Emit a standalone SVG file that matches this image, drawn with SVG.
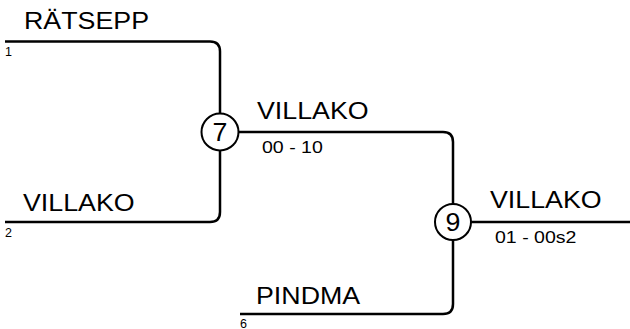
<svg xmlns="http://www.w3.org/2000/svg" width="630" height="329" viewBox="0 0 630 329">
<style>
.ln{fill:none;stroke:#000;stroke-width:2.5}
.nd{fill:#fff;stroke:#000;stroke-width:2}
.big{font-family:"Liberation Sans",Arial,sans-serif;font-size:23.5px;fill:#000}
.sm{font-family:"Liberation Sans",Arial,sans-serif;font-size:17px;fill:#000}
.seed{font-family:"Liberation Sans",Arial,sans-serif;font-size:12.5px;fill:#000}
.num{font-family:"Liberation Sans",Arial,sans-serif;font-size:25.5px;fill:#000;text-anchor:middle}
</style>
<g id="connectors">
<path class="ln" d="M5 41.5 H210 Q220 41.5 220 51.5 V113"/>
<path class="ln" d="M5 222 H210 Q220 222 220 212 V151"/>
<path class="ln" d="M239 132 H443 Q453 132 453 142 V204"/>
<path class="ln" d="M240 314 H443 Q453 314 453 304 V240"/>
<path class="ln" d="M471 222 H630"/>
</g>
<g id="p1">
<text class="big" transform="translate(24 29) scale(1.14 1)">RÄTSEPP</text>
<text class="seed" x="5" y="56">1</text>
</g>
<g id="p2">
<text class="big" transform="translate(23 211) scale(1.14 1)">VILLAKO</text>
<text class="seed" x="5" y="237">2</text>
</g>
<g id="p6">
<text class="big" transform="translate(256 304) scale(1.14 1)">PINDMA</text>
<text class="seed" x="240" y="327.5">6</text>
</g>
<g id="n7">
<circle class="nd" cx="220" cy="132" r="18.5"/>
<text class="num" transform="translate(220 141) scale(1.05 1)">7</text>
<text class="big" transform="translate(257 119) scale(1.14 1)">VILLAKO</text>
<text class="sm" transform="translate(262 153) scale(1.15 1)">00 - 10</text>
</g>
<g id="n9">
<circle class="nd" cx="453" cy="222" r="18"/>
<text class="num" transform="translate(453 231) scale(1.05 1)">9</text>
<text class="big" transform="translate(490 208) scale(1.14 1)">VILLAKO</text>
<text class="sm" transform="translate(495 243) scale(1.15 1)">01 - 00s2</text>
</g>
</svg>
